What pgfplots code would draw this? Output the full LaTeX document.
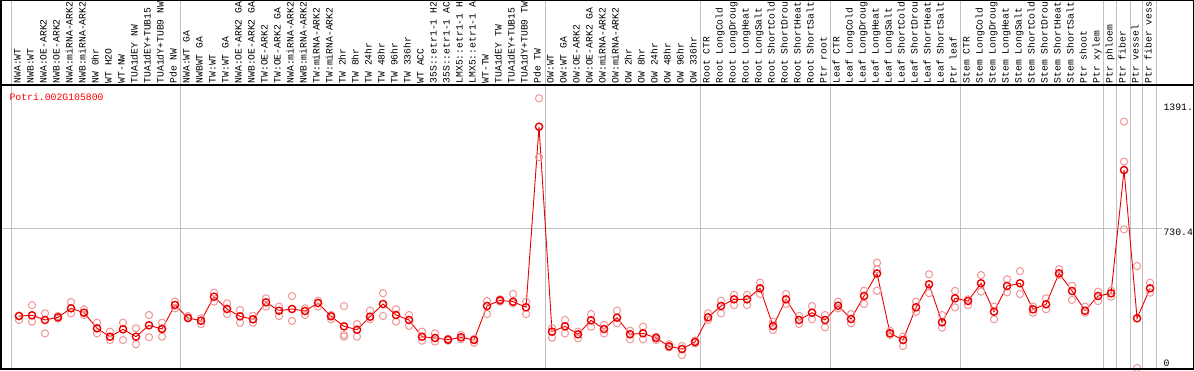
\documentclass[border=0pt]{standalone}
\usepackage{fontspec}
\setmainfont{Liberation Mono}
\usepackage{pgfplots}
\pgfplotsset{compat=1.18}
\usepackage{pgfplotstable}
\definecolor{repc}{RGB}{240,150,150}
\definecolor{meanc}{RGB}{235,0,0}
\definecolor{gridc}{RGB}{192,192,192}

\pgfplotstableread{
i v
1 271.9
2 275.5
3 251
4 265.1
5 312.1
6 289.1
7 207.6
8 163.7
9 202.3
10 163.7
11 223.3
12 203.9
13 329.4
14 261.4
15 247.3
16 372.8
17 308.5
18 270.3
19 254.6
20 343.5
21 299.6
22 308.5
23 298
24 339.9
25 270.3
26 218
27 200.3
28 268.2
29 334.6
30 277.1
31 251
32 163.7
33 156.9
34 148
35 160.5
36 146.4
37 324.2
38 354
39 346.7
40 317.4
41 1261.6
42 189.8
43 218
44 176.2
45 249.4
46 203.9
47 263
48 176.2
49 181.4
50 156.9
51 113.5
52 99.3
53 135.9
54 265.1
55 324.2
56 359.2
57 359.2
58 416.7
59 219.6
60 359.2
61 251
62 289.1
63 251
64 325.7
65 256.2
66 376.5
67 494.1
68 181.4
69 146.4
70 317.4
71 437.6
72 238.9
73 364.4
74 350.3
75 442.9
76 294.4
77 428.7
78 442.9
79 306.9
80 333.1
81 495.1
82 402.6
83 299.6
84 376.5
85 390.6
86 1035.2
87 259.9
88 416.7
}\means

\pgfplotstableread{
i v
1 272
1 251
2 329
2 242
3 286
3 181
4 272
4 259
5 345
5 286
6 307
6 277
7 237
7 181
8 190
8 146
9 237
9 146
10 208
10 124
11 277
11 161
12 237
12 164
12 208
13 347
13 312
14 272
14 260
15 260
15 230
16 394
16 347
17 338
17 282
18 303
18 237
19 273
19 237
20 364
20 321
21 321
21 272
22 376
22 246
23 312
23 277
24 352
24 321
25 277
25 255
26 324
26 173
26 164
27 230
27 164
28 300
28 255
29 391
29 272
30 307
30 242
31 277
31 220
32 190
32 143
33 181
33 138
34 153
34 143
35 173
35 150
36 152
36 132
37 350
37 282
38 359
38 347
39 387
39 338
40 347
40 282
41 1410
41 1102
42 208
42 158
43 251
43 181
44 190
44 155
45 282
45 216
46 225
46 181
47 300
47 234
48 195
48 150
49 216
49 150
50 164
50 146
51 125
51 108
52 115
52 68
53 143
53 129
54 286
54 251
55 352
55 286
56 382
56 329
57 382
57 329
58 446
58 387
59 242
59 199
60 387
60 335
61 272
61 230
62 324
62 255
63 277
63 213
64 347
64 312
65 282
65 234
66 404
66 335
67 551
67 516
67 404
68 195
68 173
69 164
69 115
70 347
70 294
71 490
71 391
72 277
72 211
73 403
73 317
74 359
74 329
75 486
75 399
76 321
76 255
77 464
77 396
78 507
78 387
79 321
79 289
80 364
80 307
81 516
81 486
82 430
82 356
83 321
83 289
84 399
84 350
85 404
85 373
86 1288
86 1079
86 725
87 533
87 0
88 446
88 394
}\reps

\begin{document}
\begin{tikzpicture}[x=1pt,y=1pt]
\fill[white] (0,0) rectangle (1194,370);
\begin{scope}
\clip (0,0) rectangle (1194,370);
\foreach \gx in {11,180,545,700,830,960,1103.3,1116.7,1130,1142.7,1156}
  \draw[gridc, line width=1pt] (\gx,0) -- (\gx,370);
\draw[gridc, line width=1pt] (1,141.7) -- (1162,141.7);
\foreach [count=\k] \lab in {NWA:WT,NWB:WT,NWA:OE-ARK2,NWB:OE-ARK2,NWA:miRNA-ARK2,NWB:miRNA-ARK2,NW 0hr,WT H2O,WT-NW,TUA1dEY NW,TUA1dEY+TUB15,TUA1dY+TUB9 NW,Pde NW,NWA:WT GA,NWBWT GA,TW:WT,TW:WT GA,NWA:OE-ARK2 GA,NWB:OE-ARK2 GA,TW:OE-ARK2,TW:OE-ARK2 GA,NWA:miRNA-ARK2,NWB:miRNA-ARK2,TW:miRNA-ARK2,TW:miRNA-ARK2,TW 2hr,TW 8hr,TW 24hr,TW 48hr,TW 96hr,TW 336hr,WT ACC,35S::etr1-1 H2,35S::etr1-1 AC,LMX5::etr1-1 H,LMX5::etr1-1 A,WT-TW,TUA1dEY TW,TUA1dEY+TUB15,TUA1dY+TUB9 TW,Pde TW,OW:WT,OW:WT GA,OW:OE-ARK2,OW:OE-ARK2 GA,OW:miRNA-ARK2,OW:miRNA-ARK2,OW 2hr,OW 8hr,OW 24hr,OW 48hr,OW 96hr,OW 336hr,Root CTR,Root LongCold,Root LongDroug,Root LongHeat,Root LongSalt,Root ShortCold,Root ShortDrou,Root ShortHeat,Root ShortSalt,Ptr root,Leaf CTR,Leaf LongCold,Leaf LongDroug,Leaf LongHeat,Leaf LongSalt,Leaf ShortCold,Leaf ShortDrou,Leaf ShortHeat,Leaf ShortSalt,Ptr leaf,Stem CTR,Stem LongCold,Stem LongDroug,Stem LongHeat,Stem LongSalt,Stem ShortCold,Stem ShortDrou,Stem ShortHeat,Stem ShortSalt,Ptr shoot,Ptr xylem,Ptr phloem,Ptr fiber,Ptr vessel,Ptr fiber vess}
  \node[rotate=90, anchor=base west, inner sep=0pt, font=\fontsize{9.7}{10}\selectfont] at ({6+13*\k+1.5},286.5) {\lab};
\node[anchor=north west, inner sep=0pt, text=red, font=\fontsize{9.8}{10}\selectfont] at (9.3,276.7) {Potri.002G105800};
\node[anchor=north west, inner sep=0pt, font=\fontsize{9.8}{10}\selectfont] at (1163.3,266.7) {1391.};
\node[anchor=north west, inner sep=0pt, font=\fontsize{9.8}{10}\selectfont] at (1163.3,141.2) {730.4};
\node[anchor=north west, inner sep=0pt, font=\fontsize{9.8}{10}\selectfont] at (1163.3,10.7) {0};
\begin{axis}[at={(0,0)}, anchor=south west, scale only axis, width=1194pt, height=370pt,
  xmin=-0.461538, xmax=91.384615, ymin=-10.457, ymax=1924.09,
  axis lines=none, clip=false]
\addplot[only marks, mark=o, mark size=3.6pt, color=repc, mark options={line width=1pt}] table[x=i,y=v] {\reps};
\addplot[meanc, line width=0.9pt, mark=o, mark size=3.6pt, mark options={line width=1.4pt, meanc}] table[x=i,y=v] {\means};
\end{axis}
\draw[black, line width=1.2pt] (1,1) rectangle (1193.4,369.6);
\draw[black, line width=1.2pt] (1,285) -- (1193.4,285);
\end{scope}
\pgfresetboundingbox
\useasboundingbox (0,0) rectangle (1194,370);
\end{tikzpicture}
\end{document}
